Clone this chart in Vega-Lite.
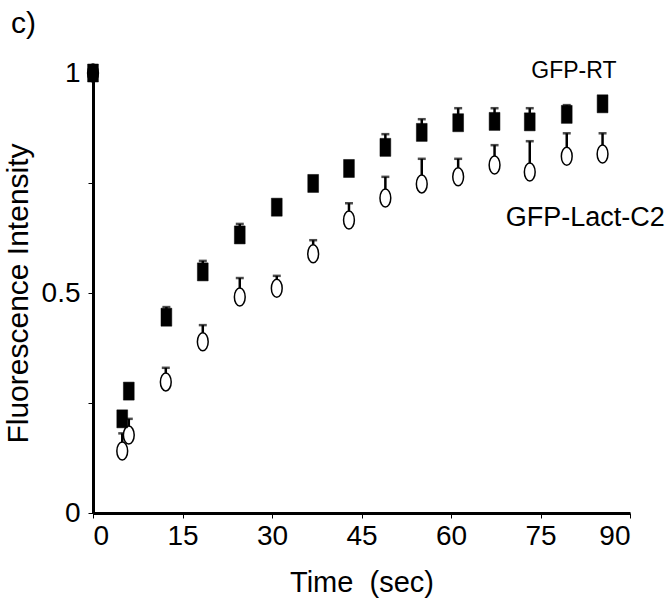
{
  "$schema": "https://vega.github.io/schema/vega-lite/v6.json",
  "width": 537,
  "height": 440,
  "autosize": {"type": "none"},
  "padding": {"left": 93, "top": 73, "right": 40, "bottom": 101},
  "background": "white",
  "title": {"text": "c)", "anchor": "start", "frame": "group", "dx": -82, "offset": 20, "fontSize": 30, "font": "Liberation Sans", "fontWeight": "normal", "color": "black"},
  "config": {"view": {"stroke": null}, "font": "Liberation Sans"},
  "datasets": {
    "pts": [
      {"series": "GFP-RT", "t": 0, "v": 1.0, "hi": 1.0},
      {"series": "GFP-RT", "t": 4.9, "v": 0.214, "hi": 0.214},
      {"series": "GFP-RT", "t": 6.0, "v": 0.277, "hi": 0.277},
      {"series": "GFP-RT", "t": 12.3, "v": 0.445, "hi": 0.468},
      {"series": "GFP-RT", "t": 18.4, "v": 0.548, "hi": 0.573},
      {"series": "GFP-RT", "t": 24.6, "v": 0.632, "hi": 0.657},
      {"series": "GFP-RT", "t": 30.8, "v": 0.695, "hi": 0.711},
      {"series": "GFP-RT", "t": 36.9, "v": 0.749, "hi": 0.759},
      {"series": "GFP-RT", "t": 42.9, "v": 0.783, "hi": 0.793},
      {"series": "GFP-RT", "t": 49.0, "v": 0.831, "hi": 0.861},
      {"series": "GFP-RT", "t": 55.1, "v": 0.865, "hi": 0.895},
      {"series": "GFP-RT", "t": 61.2, "v": 0.887, "hi": 0.92},
      {"series": "GFP-RT", "t": 67.3, "v": 0.89, "hi": 0.92},
      {"series": "GFP-RT", "t": 73.2, "v": 0.889, "hi": 0.92},
      {"series": "GFP-RT", "t": 79.4, "v": 0.906, "hi": 0.927},
      {"series": "GFP-RT", "t": 85.4, "v": 0.93, "hi": 0.94},
      {"series": "GFP-Lact-C2", "t": 0, "v": 1.0, "hi": 1.0},
      {"series": "GFP-Lact-C2", "t": 4.9, "v": 0.141, "hi": 0.181},
      {"series": "GFP-Lact-C2", "t": 6.0, "v": 0.177, "hi": 0.214},
      {"series": "GFP-Lact-C2", "t": 12.2, "v": 0.298, "hi": 0.33},
      {"series": "GFP-Lact-C2", "t": 18.4, "v": 0.389, "hi": 0.427},
      {"series": "GFP-Lact-C2", "t": 24.6, "v": 0.491, "hi": 0.534},
      {"series": "GFP-Lact-C2", "t": 30.8, "v": 0.511, "hi": 0.539},
      {"series": "GFP-Lact-C2", "t": 36.9, "v": 0.589, "hi": 0.62},
      {"series": "GFP-Lact-C2", "t": 42.9, "v": 0.666, "hi": 0.704},
      {"series": "GFP-Lact-C2", "t": 49.0, "v": 0.716, "hi": 0.764},
      {"series": "GFP-Lact-C2", "t": 55.1, "v": 0.748, "hi": 0.805},
      {"series": "GFP-Lact-C2", "t": 61.2, "v": 0.764, "hi": 0.805},
      {"series": "GFP-Lact-C2", "t": 67.3, "v": 0.791, "hi": 0.836},
      {"series": "GFP-Lact-C2", "t": 73.2, "v": 0.775, "hi": 0.845},
      {"series": "GFP-Lact-C2", "t": 79.4, "v": 0.811, "hi": 0.863},
      {"series": "GFP-Lact-C2", "t": 85.4, "v": 0.816, "hi": 0.863}
    ],
    "labels": [
      {"label": "GFP-RT", "t": 80.6, "v": 1.005, "size": "small"},
      {"label": "GFP-Lact-C2", "t": 82.5, "v": 0.67, "size": "large"}
    ]
  },
  "encoding": {
    "x": {
      "field": "t", "type": "quantitative",
      "scale": {"domain": [0, 90], "nice": false},
      "axis": {
        "title": "Time\u00a0 (sec)", "values": [0, 15, 30, 45, 60, 75, 90],
        "grid": false, "domainColor": "black", "domainWidth": 3, "tickColor": "black",
        "tickSize": 5, "tickWidth": 1, "labelFontSize": 28, "labelFont": "Liberation Sans",
        "labelColor": "black", "labelPadding": 4, "titleFontSize": 29, "titleFont": "Liberation Sans",
        "titleFontWeight": "normal", "titleColor": "black", "titlePadding": 18
      }
    },
    "y": {
      "field": "v", "type": "quantitative",
      "scale": {"domain": [0, 1], "nice": false},
      "axis": {
        "title": "Fluorescence Intensity", "values": [0, 0.25, 0.5, 0.75, 1],
        "format": ".2~f",
        "labelExpr": "datum.value == 0.25 || datum.value == 0.75 ? '' : datum.label",
        "grid": false, "domainColor": "black", "domainWidth": 3, "tickColor": "black",
        "tickSize": 5, "tickWidth": 1, "labelFontSize": 28, "labelColor": "black", "labelPadding": 8,
        "titleFontSize": 30, "titleFontWeight": "normal", "titleColor": "black", "titlePadding": 8
      }
    }
  },
  "layer": [
    {
      "data": {"name": "pts"},
      "mark": {"type": "rule", "color": "black", "strokeWidth": 2.5},
      "encoding": {"y2": {"field": "hi"}}
    },
    {
      "data": {"name": "pts"},
      "mark": {"type": "tick", "color": "black", "orient": "horizontal", "size": 8, "thickness": 2.5},
      "encoding": {"y": {"field": "hi", "type": "quantitative"}}
    },
    {
      "data": {"name": "pts"},
      "transform": [{"filter": "datum.series == 'GFP-Lact-C2'"}],
      "mark": {"type": "point", "shape": "M0,-1A0.6,1,0,1,1,0,1A0.6,1,0,1,1,0,-1Z", "size": 324, "filled": true, "fill": "white", "stroke": "black", "strokeWidth": 1.5, "opacity": 1}
    },
    {
      "data": {"name": "pts"},
      "transform": [{"filter": "datum.series == 'GFP-RT'"}],
      "mark": {"type": "point", "shape": "M-0.6,-1L0.6,-1L0.6,1L-0.6,1Z", "size": 324, "filled": true, "fill": "black", "stroke": "black", "strokeWidth": 0.5, "opacity": 1}
    },
    {
      "data": {"name": "labels"},
      "mark": {"type": "text", "font": "Liberation Sans", "color": "black", "align": "center", "baseline": "middle"},
      "encoding": {
        "text": {"field": "label"},
        "size": {"field": "size", "type": "nominal", "scale": {"domain": ["small", "large"], "range": [23, 27]}, "legend": null}
      }
    }
  ]
}
